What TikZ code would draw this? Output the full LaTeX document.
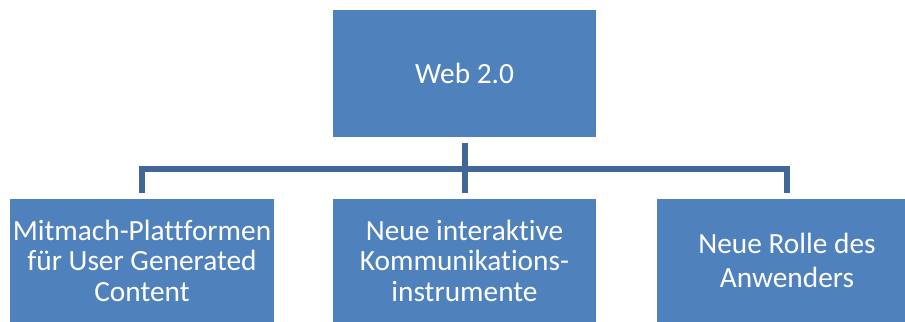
\documentclass[tikz,border=0pt]{standalone}
\usepackage{fontspec}
\setmainfont{Carlito}[Ligatures={NoCommon}]
\usepackage{tikz}
\usetikzlibrary{positioning}
\definecolor{boxblue}{RGB}{79,129,189}
\definecolor{lineblue}{RGB}{65,103,152}
\tikzstyle{box} = [rectangle, fill=boxblue, text=white, align=center, inner sep=0pt, font=\fontsize{16.7}{17.4}\selectfont]
\tikzstyle{line} = [draw=lineblue, line width=0.12cm, line join=miter]

\begin{document}
\begin{tikzpicture}[node distance=6.45cm]
	\useasboundingbox (0,0) rectangle (18.1,-6.44);
	\node[box, minimum width=5.26cm, minimum height=2.54cm] (web) at (9.29,-1.47) {Web 2.0};
	\node[box, minimum width=5.26cm, minimum height=2.46cm, below of=web, node distance=3.74cm] (tools) {Neue interaktive\\Kommunikations-\\instrumente};
	\node[box, minimum width=5.28cm, minimum height=2.46cm, left of=tools] (platforms) {Mitmach-Plattformen\\f\"ur User Generated\\Content};
	\node[box, minimum width=5.2cm, minimum height=2.46cm, right of=tools, font=\fontsize{16.7}{19.5}\selectfont] (users) {Neue Rolle des\\Anwenders};
	\coordinate[below=0.64cm of web.south] (bar);

	\path[line] ([yshift=-0.12cm]web.south) -- ([yshift=0.12cm]tools.north);
	\path[line] ([yshift=0.12cm]platforms.north) |- (bar) -| ([yshift=0.12cm]users.north);
\end{tikzpicture}
\end{document}
